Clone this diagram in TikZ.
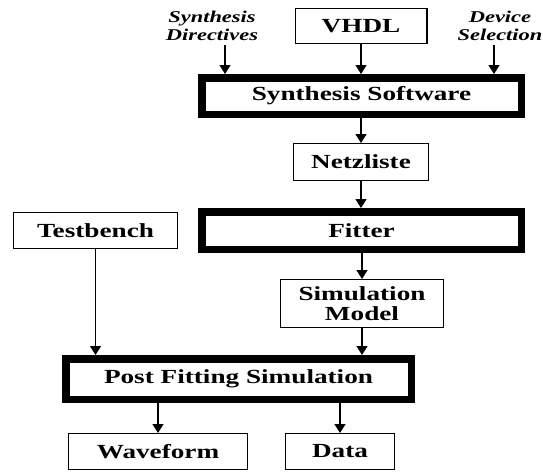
\documentclass[tikz,border=0pt]{standalone}
\usepackage{fontspec}
\setmainfont{Liberation Serif}[FakeStretch=1.36]
\usetikzlibrary{arrows.meta}
\begin{document}
\begin{tikzpicture}[x=1pt,y=1pt]
\tikzset{
 thinbox/.style={draw, line width=1.3pt, inner sep=0pt, font=\fontsize{20}{20.5}\selectfont\bfseries, align=center},
 thickbox/.style={draw, line width=7.5pt, inner sep=0pt, outer sep=3.75pt, font=\fontsize{20}{20.5}\selectfont\bfseries, align=center},
 lbl/.style={font=\fontsize{16.5}{18}\selectfont\bfseries\itshape, align=center, inner sep=1pt},
 arr/.style={line width=1.3pt, -{Triangle[width=11pt,length=9pt]}}
}
\useasboundingbox (0,0) rectangle (543,-471);
\node[thinbox, minimum width=131.7pt, minimum height=34.7pt] (vhdl) at (361,-26) {VHDL};
\node[thickbox, minimum width=319.5pt, minimum height=36.5pt] (synth) at (361.5,-96) {Synthesis Software};
\node[thinbox, minimum width=134.7pt, minimum height=36.7pt] (netz) at (361,-162) {Netzliste};
\node[thickbox, minimum width=319.5pt, minimum height=37.5pt] (fit) at (361.5,-230.5) {Fitter};
\node[thinbox, minimum width=162.7pt, minimum height=47.7pt] (sim) at (362,-303.5) {Simulation\\Model};
\node[thinbox, minimum width=163.7pt, minimum height=35.7pt] (tb) at (95.5,-230.5) {Testbench};
\node[thickbox, minimum width=345.5pt, minimum height=40.5pt] (post) at (238.5,-379) {Post Fitting Simulation};
\node[thinbox, minimum width=178.7pt, minimum height=35.7pt] (wave) at (158,-451.5) {Waveform};
\node[thinbox, minimum width=108.7pt, minimum height=35.7pt] (data) at (340,-451.5) {Data};
\node[lbl] (dir) at (212,-26) {Synthesis\\Directives};
\node[lbl] (dev) at (500,-26) {Device\\Selection};
\draw[arr] ([xshift=13pt,yshift=-3pt]dir.south) -- ([xshift=13pt]dir.south |- synth.north);
\draw[arr] (vhdl.south) -- (vhdl.south |- synth.north);
\draw[arr] ([xshift=-6pt,yshift=-3pt]dev.south) -- ([xshift=-6pt]dev.south |- synth.north);
\draw[arr] (synth.south -| netz.north) -- (netz.north);
\draw[arr] (netz.south) -- (netz.south |- fit.north);
\draw[arr] (fit.south -| sim.north) -- (sim.north);
\draw[arr] (tb.south) -- (tb.south |- post.north);
\draw[arr] (sim.south) -- (sim.south |- post.north);
\draw[arr] (post.south -| wave.north) -- (wave.north);
\draw[arr] (post.south -| data.north) -- (data.north);
\end{tikzpicture}
\end{document}
